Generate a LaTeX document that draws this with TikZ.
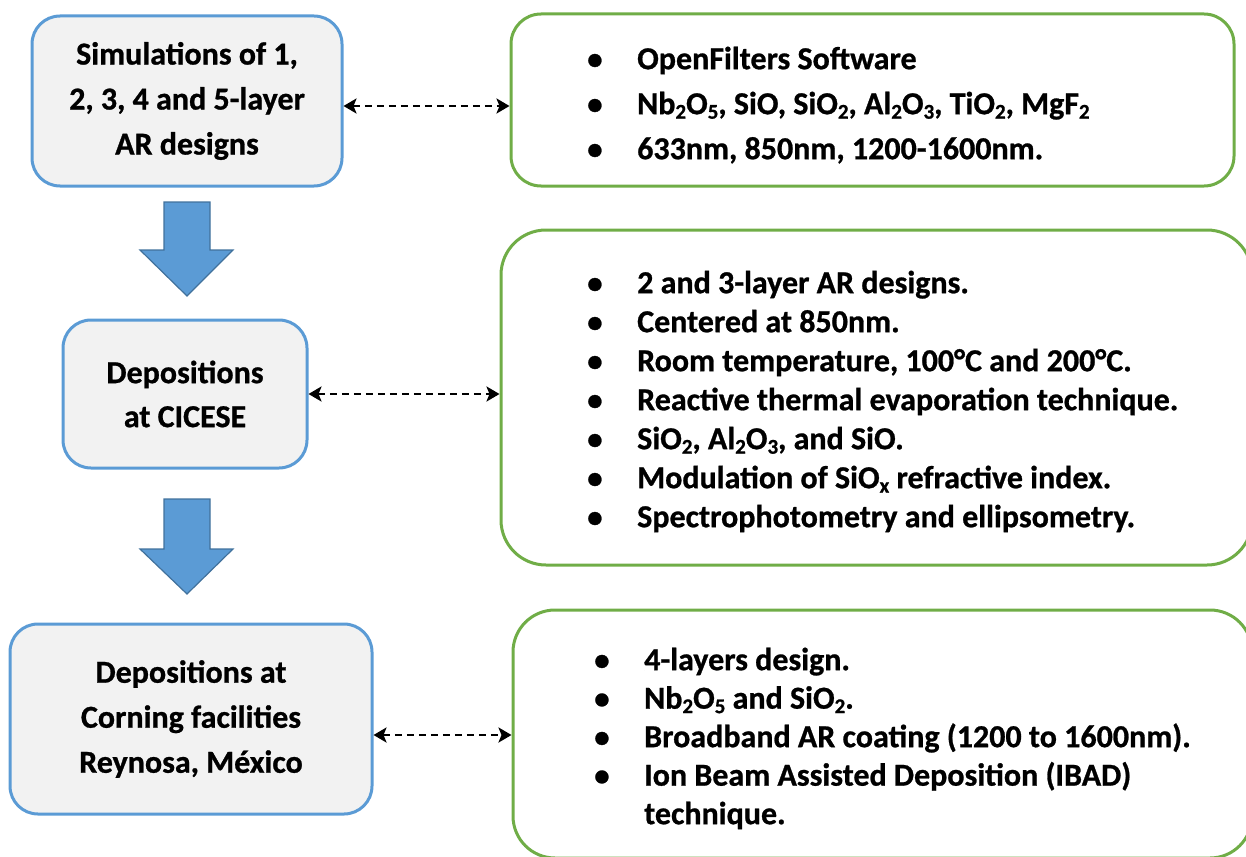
\documentclass[tikz,border=0pt]{standalone}
\usepackage{fontspec}
\setmainfont{Carlito}[BoldFeatures={FakeBold=0.8}]
\usetikzlibrary{arrows.meta}
\definecolor{boxblue}{HTML}{5B9BD5}
\definecolor{boxfill}{HTML}{F2F2F2}
\definecolor{boxgreen}{HTML}{70AD47}
\definecolor{arrowedge}{HTML}{41719C}
% chemical subscripts
\newcommand\sbs[1]{\raisebox{-0.14em}{\fontsize{21}{21}\selectfont #1}}
% list bullet
\newcommand\dotitem{{\fontsize{31}{31}\selectfont •}}

\begin{document}
\begin{tikzpicture}[x=1pt,y=-1pt,
  stage/.style={draw=boxblue, line width=3pt, fill=boxfill, rounded corners=28pt,
    align=center, inner sep=0pt},
  infobox/.style={draw=boxgreen, line width=3pt, rounded corners=#1, inner sep=0pt},
  flow/.style={fill=boxblue, draw=arrowedge, line width=1.2pt, line join=miter},
  link/.style={line width=2.5pt, dash pattern=on 7pt off 5pt,
    {Stealth[length=13pt,width=15pt,inset=3pt]}-{Stealth[length=13pt,width=15pt,inset=3pt]}},
  items/.style={anchor=north west, inner sep=0pt}
]
\useasboundingbox (0,0) rectangle (1246,856);
\begin{scope}
\clip (0,0) rectangle (1246,856);

% process stages
\node[stage, minimum width=310pt, minimum height=170pt,
  font=\fontsize{32}{45}\selectfont\bfseries] (b1) at (187,101)
  {Simulations of 1,\\2, 3, 4 and 5-layer\\AR designs};
\node[stage, minimum width=244pt, minimum height=148pt,
  font=\fontsize{32}{44}\selectfont\bfseries] (b2) at (185,394)
  {Depositions\\at CICESE};
\node[stage, minimum width=362pt, minimum height=190pt,
  font=\fontsize{32}{45}\selectfont\bfseries] (b3) at (191,719)
  {Depositions at\\Corning facilities\\Reynosa, México};

% block arrows between stages
\draw[flow] (164,202) -- (210,202) -- (210,250) -- (233,250) -- (187,296)
  -- (140,250) -- (164,250) -- cycle;
\draw[flow] (164,499) -- (210,499) -- (210,549) -- (233,549) -- (187,594)
  -- (140,549) -- (164,549) -- cycle;

% detail boxes
\node[infobox=30pt, minimum width=723pt, minimum height=172pt] (g1) at (872.5,100) {};
\node[infobox=45pt, minimum width=751pt, minimum height=335pt] (g2) at (876.5,397.5) {};
\node[infobox=42pt, minimum width=739pt, minimum height=248pt] (g3) at (882.5,734) {};

% detail lists
\node[items, font=\fontsize{32}{45}\selectfont\bfseries] (d1) at (587,37.5)
  {\begin{tabular}{@{}p{50pt}@{}l@{}}
   \dotitem & OpenFilters Software\\
   \dotitem & Nb\sbs{2}O\sbs{5}, SiO, SiO\sbs{2}, Al\sbs{2}O\sbs{3}, TiO\sbs{2}, MgF\sbs{2}\\
   \dotitem & 633nm, 850nm, 1200-1600nm.
   \end{tabular}};

\node[items, font=\fontsize{32}{39}\selectfont\bfseries] (d2) at (587,265.7)
  {\begin{tabular}{@{}p{50pt}@{}l@{}}
   \dotitem & 2 and 3-layer AR designs.\\
   \dotitem & Centered at 850nm.\\
   \dotitem & Room temperature, 100°C and 200°C.\\
   \dotitem & Reactive thermal evaporation technique.\\
   \dotitem & SiO\sbs{2}, Al\sbs{2}O\sbs{3}, and SiO.\\
   \dotitem & Modulation of SiO\sbs{x} refractive index.\\
   \dotitem & Spectrophotometry and ellipsometry.
   \end{tabular}};

\node[items, font=\fontsize{32}{38.5}\selectfont\bfseries] (d3) at (594,643)
  {\begin{tabular}{@{}p{50pt}@{}l@{}}
   \dotitem & 4-layers design.\\
   \dotitem & Nb\sbs{2}O\sbs{5} and SiO\sbs{2}.\\
   \dotitem & Broadband AR coating (1200 to 1600nm).\\
   \dotitem & Ion Beam Assisted Deposition (IBAD)\\
            & technique.
   \end{tabular}};

% links between stages and details
\draw[link] ([yshift=-5pt]b1.east) -- ([yshift=-5pt]b1.east -| g1.west);
\draw[link] (b2.east) -- (b2.east -| g2.west);
\draw[link] ([yshift=-16pt]b3.east) -- ([yshift=-16pt]b3.east -| g3.west);
\end{scope}
\end{tikzpicture}
\end{document}
